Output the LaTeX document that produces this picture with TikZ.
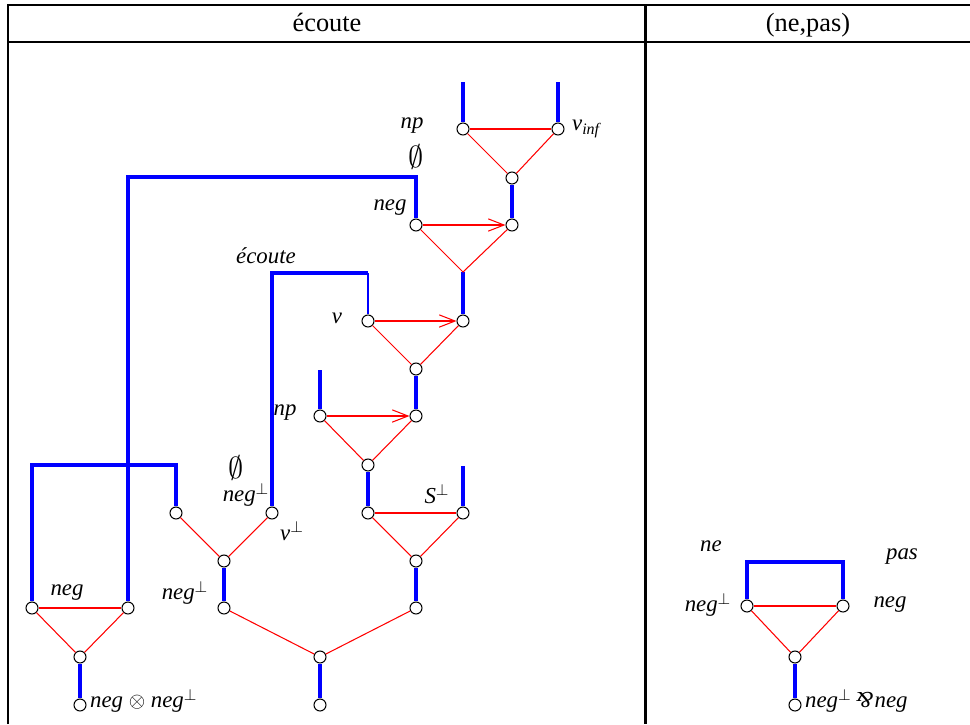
\documentclass[tikz,border=0pt]{standalone}
\usepackage{fontspec}
\setmainfont{Liberation Serif}
\usepackage{amsmath,amssymb}
\usepackage{graphicx}
\usetikzlibrary{arrows.meta, positioning}
\newcommand{\parrop}{\mathbin{\rotatebox[origin=c]{180}{\&}}}

\begin{document}
\begin{tikzpicture}[
    x=0.02cm, y=-0.02cm,
    port/.style={
        circle, draw=black, fill=white, line width=0.6pt,
        inner sep=0pt, minimum size=0.24cm
    },
    link/.style={blue, line width=2.3pt},
    thinlink/.style={blue, line width=0.6pt},
    axiom/.style={red, line width=0.6pt},
    arrow/.style={axiom, -{Straight Barb[length=9pt,width=7pt]}},
    lab/.style={font=\fontsize{13}{15}\selectfont\itshape, inner sep=1pt},
    emptylab/.style={font=\fontsize{17}{19}\selectfont, inner sep=1pt},
    head/.style={font=\fontsize{15}{18}\selectfont, anchor=base},
    rule/.style={black, line width=1.7pt}
]
    \useasboundingbox (0,0) rectangle (970,724);

    % table frame
    \draw[rule] (8,724) -- (8,5) -- (970,5);
    \draw[rule] (8,42) -- (970,42);
    \draw[rule] (645,5) -- (645,724);
    \node[head] (hleft) at (327,31) {écoute};
    \node[head] (hright) at (808,31) {(ne,pas)};

    % ports of the left net
    \node[port] (np1) at (463,129) {};
    \node[port] (vinf) at (558,129) {};
    \node[port] (t1) at (512,178) {};
    \node[port] (t1b) at (512,225) {};
    \node[port] (neg1) at (416,225) {};
    \coordinate (k1) at (463,272);
    \node[port] (k1b) at (463,321) {};
    \node[port] (vv) at (368,321) {};
    \node[port] (t2) at (416,369) {};
    \node[port] (t2b) at (416,416) {};
    \node[port] (np2) at (320,416) {};
    \node[port] (t3) at (368,465) {};
    \node[port] (t3b) at (368,513) {};
    \node[port] (sperp) at (463,513) {};
    \node[port] (t4) at (416,561) {};
    \node[port] (t4b) at (416,608) {};
    \node[port] (negp) at (176,513) {};
    \node[port] (vperp) at (272,513) {};
    \node[port] (t5) at (224,561) {};
    \node[port] (t5b) at (224,608) {};
    \node[port] (root) at (320,657) {};
    \node[port] (rootb) at (320,705) {};
    \node[port] (negL) at (32,608) {};
    \node[port] (negR) at (128,608) {};
    \node[port] (t6) at (80,657) {};
    \node[port] (t6b) at (80,705) {};

    % ports of the right net
    \node[port] (ne) at (747,606) {};
    \node[port] (pas) at (843,606) {};
    \node[port] (t7) at (795,657) {};
    \node[port] (t7b) at (795,705) {};

    % free ends
    \coordinate (np1up) at (463,82);
    \coordinate (vinfup) at (558,82);
    \coordinate (np2up) at (320,370);
    \coordinate (sperpup) at (463,466);
    \coordinate (vvup) at (368,273);

    % blue links
    \draw[link] (np1) -- (np1up);
    \draw[link] (vinf) -- (vinfup);
    \draw[link] (t1) -- (t1b);
    \draw[link] (neg1) -- (416,177) -- (128,177) -- (negR);
    \draw[link] (k1) -- (k1b);
    \draw[thinlink] (vv) -- (vvup);
    \draw[link] (vvup) -- (272,273) -- (vperp);
    \draw[link] (t2) -- (t2b);
    \draw[link] (np2) -- (np2up);
    \draw[link] (t3) -- (t3b);
    \draw[link] (sperp) -- (sperpup);
    \draw[link] (t4) -- (t4b);
    \draw[link] (negp) -- (176,465) -- (32,465) -- (negL);
    \draw[link] (t5) -- (t5b);
    \draw[link] (root) -- (rootb);
    \draw[link] (t6) -- (t6b);
    \draw[link] (ne) -- (747,562) -- (843,562) -- (pas);
    \draw[link] (t7) -- (t7b);

    % red axioms
    \draw[axiom] (np1) -- (vinf);
    \draw[axiom] (np1) -- (t1);
    \draw[axiom] (vinf) -- (t1);
    \draw[arrow] (neg1) -- (t1b);
    \draw[axiom] (neg1) -- (k1) -- (t1b);
    \draw[arrow] (vv) -- (k1b);
    \draw[axiom] (vv) -- (t2);
    \draw[axiom] (k1b) -- (t2);
    \draw[arrow] (np2) -- (t2b);
    \draw[axiom] (np2) -- (t3);
    \draw[axiom] (t2b) -- (t3);
    \draw[axiom] (t3b) -- (sperp);
    \draw[axiom] (t3b) -- (t4);
    \draw[axiom] (sperp) -- (t4);
    \draw[axiom] (negp) -- (t5);
    \draw[axiom] (vperp) -- (t5);
    \draw[axiom] (t5b) -- (root);
    \draw[axiom] (t4b) -- (root);
    \draw[axiom] (negL) -- (negR);
    \draw[axiom] (negL) -- (t6);
    \draw[axiom] (negR) -- (t6);
    \draw[axiom] (ne) -- (pas);
    \draw[axiom] (ne) -- (t7);
    \draw[axiom] (pas) -- (t7);

    % labels
    \node[lab] (lnp1) at (412,126) {np};
    \node[lab, anchor=west] (lvinf) at (570,129) {v\textsubscript{\textit{inf}}};
    \node[emptylab] (lempty1) at (416,157) {$\emptyset$};
    \node[lab] (lneg1) at (390,208) {neg};
    \node[lab] (lecoute) at (266,256) {écoute};
    \node[lab] (lv) at (337,318) {v};
    \node[lab] (lnp2) at (285,413) {np};
    \node[emptylab] (lempty2) at (236,468) {$\emptyset$};
    \node[lab] (lnegp) at (246,495) {neg$^{\perp}$};
    \node[lab] (lvperp) at (292,531) {v$^{\perp}$};
    \node[lab] (lsperp) at (437,494) {S$^{\perp}$};
    \node[lab] (lnegL) at (67,593) {neg};
    \node[lab] (lnegp2) at (185,593) {neg$^{\perp}$};
    \node[lab, anchor=west] (ltensor) at (88,701) {neg $\otimes$ neg$^{\perp}$};
    \node[lab] (lne) at (711,546) {ne};
    \node[lab] (lpas) at (902,557) {pas};
    \node[lab] (lnegne) at (708,605) {neg$^{\perp}$};
    \node[lab] (lnegpas) at (890,605) {neg};
    \node[lab, anchor=west] (lparr) at (803,701) {neg$^{\perp}$\kern2.5pt$\parrop$\kern0.5pt neg};
\end{tikzpicture}
\end{document}
